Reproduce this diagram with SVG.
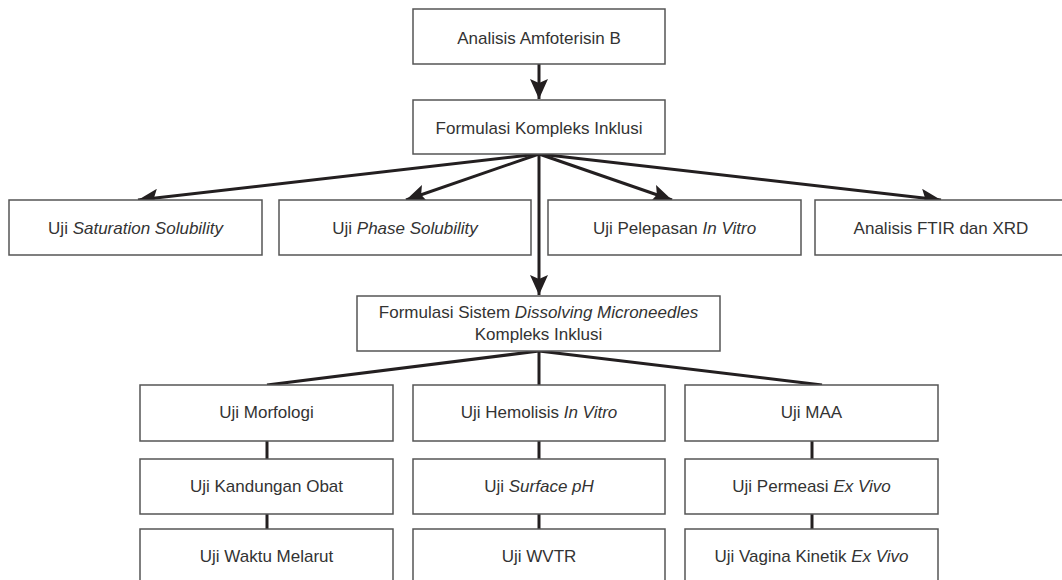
<svg xmlns="http://www.w3.org/2000/svg" width="1062" height="580" viewBox="0 0 1062 580">
<style>
.box{fill:#fff;stroke:#555;stroke-width:1.5}
.t{font-family:"Liberation Sans",Arial,sans-serif;font-size:17px;fill:#333;text-anchor:middle}
.i{font-style:italic}
.c{stroke:#231f20;stroke-width:3;fill:none}
</style>
<defs>
<marker id="ah" markerUnits="userSpaceOnUse" markerWidth="21" markerHeight="18" refX="20" refY="9" orient="auto" viewBox="0 0 21 18">
<path d="M0,0 L20,9 L0,18 L4,9 z" fill="#231f20"/>
</marker>
</defs>
<rect width="1062" height="580" fill="#fff"/>
<g id="connectors">
<line class="c" x1="539" y1="64" x2="539" y2="99" marker-end="url(#ah)"/>
<line class="c" x1="539" y1="154" x2="138" y2="200" marker-end="url(#ah)"/>
<line class="c" x1="539" y1="154" x2="406" y2="200" marker-end="url(#ah)"/>
<line class="c" x1="539" y1="154" x2="672" y2="200" marker-end="url(#ah)"/>
<line class="c" x1="539" y1="154" x2="941" y2="200" marker-end="url(#ah)"/>
<line class="c" x1="539" y1="154" x2="539" y2="295" marker-end="url(#ah)"/>
<line class="c" x1="539" y1="351" x2="267" y2="385"/>
<line class="c" x1="539" y1="351" x2="539" y2="385"/>
<line class="c" x1="539" y1="351" x2="822" y2="385"/>
<line class="c" x1="267" y1="441" x2="267" y2="459"/>
<line class="c" x1="267" y1="514" x2="267" y2="529"/>
<line class="c" x1="539" y1="441" x2="539" y2="459"/>
<line class="c" x1="539" y1="514" x2="539" y2="529"/>
<line class="c" x1="812" y1="441" x2="812" y2="459"/>
<line class="c" x1="812" y1="514" x2="812" y2="529"/>
</g>
<g id="n1"><rect class="box" x="413" y="9" width="252" height="55"/><text class="t" x="539" y="44">Analisis Amfoterisin B</text></g>
<g id="n2"><rect class="box" x="413" y="100" width="252" height="54"/><text class="t" x="539" y="134">Formulasi Kompleks Inklusi</text></g>
<g id="n3"><rect class="box" x="9" y="200" width="253" height="55"/><text class="t" x="135.5" y="234">Uji <tspan class="i">Saturation Solubility</tspan></text></g>
<g id="n4"><rect class="box" x="279" y="200" width="252" height="55"/><text class="t" x="405" y="234">Uji <tspan class="i">Phase Solubility</tspan></text></g>
<g id="n5"><rect class="box" x="548" y="200" width="253" height="55"/><text class="t" x="674.5" y="234">Uji Pelepasan <tspan class="i">In Vitro</tspan></text></g>
<g id="n6"><rect class="box" x="815" y="200" width="253" height="55"/><text class="t" x="941" y="234">Analisis FTIR dan XRD</text></g>
<g id="n7"><rect class="box" x="357" y="296" width="363" height="55"/><text class="t" x="538.5" y="318">Formulasi Sistem <tspan class="i">Dissolving Microneedles</tspan></text><text class="t" x="538.5" y="340">Kompleks Inklusi</text></g>
<g id="n8"><rect class="box" x="140" y="385" width="253" height="56"/><text class="t" x="266.5" y="418">Uji Morfologi</text></g>
<g id="n9"><rect class="box" x="413" y="385" width="252" height="56"/><text class="t" x="539" y="418">Uji Hemolisis <tspan class="i">In Vitro</tspan></text></g>
<g id="n10"><rect class="box" x="685" y="385" width="253" height="56"/><text class="t" x="811.5" y="418">Uji MAA</text></g>
<g id="n11"><rect class="box" x="140" y="459" width="253" height="55"/><text class="t" x="266.5" y="492">Uji Kandungan Obat</text></g>
<g id="n12"><rect class="box" x="413" y="459" width="252" height="55"/><text class="t" x="539" y="492">Uji <tspan class="i">Surface pH</tspan></text></g>
<g id="n13"><rect class="box" x="685" y="459" width="253" height="55"/><text class="t" x="811.5" y="492">Uji Permeasi <tspan class="i">Ex Vivo</tspan></text></g>
<g id="n14"><rect class="box" x="140" y="529" width="253" height="60"/><text class="t" x="266.5" y="562">Uji Waktu Melarut</text></g>
<g id="n15"><rect class="box" x="413" y="529" width="252" height="60"/><text class="t" x="539" y="562">Uji WVTR</text></g>
<g id="n16"><rect class="box" x="685" y="529" width="253" height="60"/><text class="t" x="811.5" y="562">Uji Vagina Kinetik <tspan class="i">Ex Vivo</tspan></text></g>
</svg>
